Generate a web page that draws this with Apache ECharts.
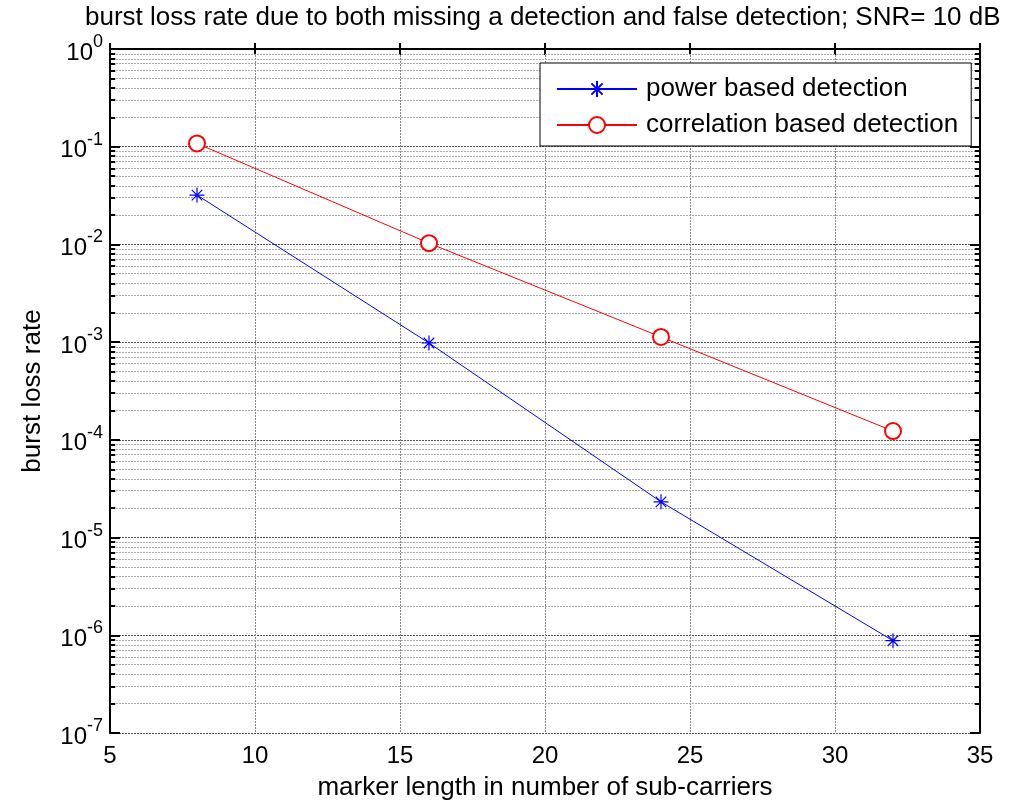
<!DOCTYPE html>
<html>
<head>
<meta charset="utf-8">
<script src="https://cdn.jsdelivr.net/npm/echarts@6/dist/echarts.min.js"></script>
<style>
  html, body { margin: 0; padding: 0; background: #fff; }
  #chart { width: 1028px; height: 807px; }
</style>
</head>
<body>
<div id="chart"></div>
<script>
// data
const markerLength = [8, 16, 24, 32];
const powerBased = [3.2e-2, 9.8e-4, 2.32e-5, 8.8e-7];
const correlationBased = [1.08e-1, 1.03e-2, 1.13e-3, 1.23e-4];
const seriesNames = ['power based detection', 'correlation based detection'];
const xTicks = [5, 10, 15, 20, 25, 30, 35];
const decades = [-7, -6, -5, -4, -3, -2, -1, 0];

const xMin = xTicks[0], xMax = xTicks[xTicks.length - 1];

// minor grid / minor ticks (2..9 x 10^e), in log10 units for a hidden linear axis
const minorGrid = [];
const minorTicks = [];
decades.slice(0, -1).forEach(function (e) {
  for (let k = 2; k <= 9; k++) {
    const y = e + Math.log10(k);
    minorGrid.push({ yAxis: y });
    minorTicks.push([{ coord: [xMin, y] }, { coord: [xMin + 0.18, y] }]);
    minorTicks.push([{ coord: [xMax - 0.18, y] }, { coord: [xMax, y] }]);
  }
});

const FONT = 'Liberation Sans, Arial, sans-serif';
const star = 'path://M10,0L10,20M0,10L20,10M3,3L17,17M3,17L17,3';

const chart = echarts.init(document.getElementById('chart'));
chart.setOption({
  animation: false,
  title: {
    text: 'burst loss rate due to both missing a detection and false detection; SNR= 10 dB',
    left: 85,
    top: 5,
    padding: 0,
    textStyle: { fontFamily: FONT, fontSize: 26, fontWeight: 'normal', color: '#000' }
  },
  grid: { left: 110, right: 48, top: 49, bottom: 74, show: false },
  legend: {
    orient: 'vertical',
    left: 540,
    top: 63,
    z: 20,
    padding: [13, 13, 8, 16],
    itemWidth: 80,
    itemHeight: 20,
    itemGap: 10,
    backgroundColor: '#fff',
    borderColor: '#000',
    borderWidth: 1,
    lineStyle: { type: 'solid' },
    textStyle: { fontFamily: FONT, fontSize: 26, color: '#000', padding: [0, 0, 0, 4] },
    data: seriesNames
  },
  xAxis: [{
    type: 'value',
    min: xMin,
    max: xMax,
    interval: 5,
    name: 'marker length in number of sub-carriers',
    nameLocation: 'middle',
    nameGap: 42,
    nameTextStyle: { fontFamily: FONT, fontSize: 26, color: '#000' },
    axisLine: { lineStyle: { color: '#000', width: 2 } },
    axisTick: { inside: true, length: 6, lineStyle: { color: '#000', width: 2 } },
    axisLabel: { margin: 11, fontFamily: FONT, fontSize: 24, color: '#000' },
    splitLine: { show: true, lineStyle: { color: '#888', width: 1, type: [2, 1] } }
  }, {
    type: 'value',
    position: 'top',
    min: xMin,
    max: xMax,
    interval: 5,
    axisLine: { lineStyle: { color: '#000', width: 2 } },
    axisTick: { inside: true, length: 6, lineStyle: { color: '#000', width: 2 } },
    axisLabel: { show: false },
    splitLine: { show: false }
  }],
  yAxis: [{
    type: 'log',
    logBase: 10,
    min: Math.pow(10, decades[0]),
    max: Math.pow(10, decades[decades.length - 1]),
    name: 'burst loss rate',
    nameLocation: 'middle',
    nameGap: 64,
    nameTextStyle: { fontFamily: FONT, fontSize: 26, color: '#000' },
    axisLine: { lineStyle: { color: '#000', width: 2 } },
    axisTick: { inside: true, length: 10, lineStyle: { color: '#000', width: 2 } },
    axisLabel: {
      margin: 7,
      formatter: function (v) {
        return '{b|10}{e|' + Math.round(Math.log10(v)) + '}';
      },
      rich: {
        b: { fontFamily: FONT, fontSize: 24, color: '#000', verticalAlign: 'bottom' },
        e: { fontFamily: FONT, fontSize: 18, color: '#000', verticalAlign: 'bottom', padding: [0, 0, 14, 0] }
      }
    },
    splitLine: { show: true, lineStyle: { color: '#555', width: 1, type: [2, 1] } }
  }, {
    type: 'log',
    logBase: 10,
    position: 'right',
    min: Math.pow(10, decades[0]),
    max: Math.pow(10, decades[decades.length - 1]),
    axisLine: { lineStyle: { color: '#000', width: 2 } },
    axisTick: { inside: true, length: 10, lineStyle: { color: '#000', width: 2 } },
    axisLabel: { show: false },
    splitLine: { show: false }
  }, {
    // hidden linear axis in log10 units, only used to place the minor grid
    type: 'value',
    show: false,
    min: decades[0],
    max: decades[decades.length - 1],
    splitLine: { show: false }
  }],
  series: [{
    name: 'minor grid',
    type: 'line',
    yAxisIndex: 2,
    data: [],
    silent: true,
    z: 1,
    markLine: {
      silent: true,
      z: 1,
      symbol: 'none',
      label: { show: false },
      lineStyle: { color: '#aaa', width: 1, type: [2, 1] },
      data: minorGrid
    }
  }, {
    name: 'minor ticks',
    type: 'line',
    yAxisIndex: 2,
    data: [],
    silent: true,
    z: 2,
    markLine: {
      silent: true,
      z: 2,
      symbol: 'none',
      label: { show: false },
      lineStyle: { color: '#000', width: 2, type: 'solid' },
      data: minorTicks
    }
  }, {
    name: seriesNames[0],
    type: 'line',
    data: markerLength.map(function (x, i) { return [x, powerBased[i]]; }),
    symbol: star,
    symbolSize: 15,
    showSymbol: true,
    lineStyle: { color: '#0000ff', width: 1 },
    itemStyle: { color: 'rgba(0,0,0,0)', borderColor: '#0000ff', borderWidth: 1.2 },
    z: 5
  }, {
    name: seriesNames[1],
    type: 'line',
    data: markerLength.map(function (x, i) { return [x, correlationBased[i]]; }),
    symbol: 'emptyCircle',
    symbolSize: 16,
    lineStyle: { color: '#ff0000', width: 1 },
    itemStyle: { color: '#ff0000', borderColor: '#ff0000', borderWidth: 1 },
    z: 5
  }]
});
</script>
</body>
</html>
